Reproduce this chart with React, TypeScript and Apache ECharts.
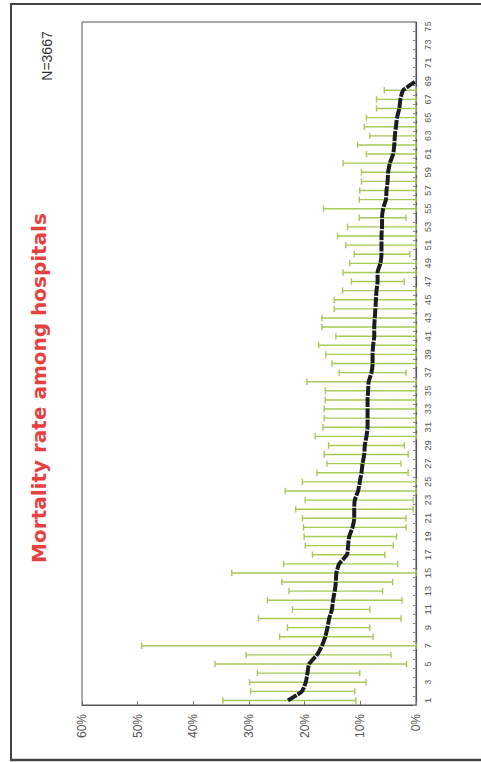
import React, { useEffect, useRef } from "react";
import * as echarts from "echarts";

const categories = [
  "1", "2", "3", "4", "5", "6", "7", "8", "9", "10",
  "11", "12", "13", "14", "15", "16", "17", "18", "19", "20",
  "21", "22", "23", "24", "25", "26", "27", "28", "29", "30",
  "31", "32", "33", "34", "35", "36", "37", "38", "39", "40",
  "41", "42", "43", "44", "45", "46", "47", "48", "49", "50",
  "51", "52", "53", "54", "55", "56", "57", "58", "59", "60",
  "61", "62", "63", "64", "65", "66", "67", "68", "69", "70",
  "71", "72", "73", "74", "75",
];

// mean mortality rate (%) per hospital (sorted)
const meanRate = [
  23.0, 20.5, 19.8, 19.5, 19.2, 17.8, 16.9, 16.3, 15.9, 15.6,
  15.1, 14.9, 14.6, 14.4, 14.3, 13.8, 12.4, 12.2, 12.0, 11.4,
  11.1, 11.1, 11.0, 10.4, 10.1, 9.8, 9.6, 9.3, 9.2, 8.9,
  8.7, 8.7, 8.7, 8.7, 8.6, 8.5, 8.0, 7.8, 7.8, 7.7,
  7.5, 7.5, 7.4, 7.3, 7.2, 7.1, 6.9, 6.9, 6.4, 6.2,
  6.2, 6.2, 6.1, 6.1, 5.9, 5.4, 5.3, 5.1, 5.0, 4.7,
  4.1, 3.9, 3.8, 3.6, 3.4, 3.0, 2.8, 2.3, 0.0,
];

// upper limit of the interval (%)
const upperRate = [
  34.7, 29.7, 29.9, 28.5, 36.1, 30.5, 49.3, 24.5, 23.1, 28.3,
  22.2, 26.7, 22.8, 24.1, 33.1, 23.8, 18.6, 19.9, 20.1, 20.2,
  20.4, 21.6, 19.9, 23.5, 20.4, 17.8, 16.0, 16.5, 15.7, 18.1,
  16.7, 16.5, 16.5, 16.3, 16.3, 19.6, 13.8, 15.1, 16.2, 17.5,
  14.4, 16.9, 16.9, 14.7, 14.7, 13.2, 11.6, 13.1, 11.9, 11.1,
  12.6, 14.1, 12.3, 10.2, 16.6, 10.2, 10.1, 9.8, 9.8, 13.1,
  8.9, 10.5, 8.3, 9.3, 8.9, 7.1, 7.1, 5.7,
];

// lower limit of the interval (%)
const lowerRate = [
  10.8, 11.0, 9.0, 10.1, 1.7, 4.5, 0.0, 7.7, 8.3, 2.7,
  8.3, 2.5, 6.0, 4.2, 0.0, 3.3, 5.6, 4.1, 3.5, 1.8,
  1.8, 0.5, 0.5, 0.0, 0.0, 1.4, 2.7, 1.4, 2.1, 0.0,
  0.0, 0.0, 0.0, 0.0, 0.0, 0.0, 1.8, 0.0, 0.0, 0.0,
  0.0, 0.0, 0.0, 0.0, 0.0, 0.0, 2.1, 0.0, 0.0, 1.1,
  0.0, 0.0, 0.0, 1.8, 0.0, 0.0, 0.0, 0.0, 0.0, 0.0,
  0.0, 0.0, 0.0, 0.0, 0.0, 0.0, 0.0, 0.0,
];

const valueTicks = [0, 10, 20, 30, 40, 50, 60];

const titleText = "Mortality rate among hospitals";
const countText = "N=3667";

export default function App() {
  const ref = useRef<HTMLDivElement>(null);

  useEffect(() => {
    if (!ref.current) return;
    const chart = echarts.init(ref.current, null, { renderer: "svg" });

    const errorData = upperRate.map((u, i) => [i, lowerRate[i], u]);
    const lineData = meanRate.map((m, i) => [m, i]);

    const option: any = {
      animation: false,
      backgroundColor: "#ffffff",
      grid: {
        left: 82,
        right: 65,
        top: 22,
        bottom: 57,
        show: true,
        borderColor: "#555",
        borderWidth: 1,
        backgroundColor: "transparent",
      },
      xAxis: {
        type: "value",
        inverse: true,
        min: valueTicks[0],
        max: valueTicks[valueTicks.length - 1],
        interval: valueTicks[1] - valueTicks[0],
        position: "bottom",
        axisLine: { show: true, lineStyle: { color: "#555", width: 1.2 } },
        axisTick: { show: true, inside: true, length: 4, lineStyle: { color: "#777" } },
        splitLine: { show: false },
        axisLabel: {
          rotate: 90,
          margin: 9,
          formatter: "{value}%",
          color: "#555",
          fontSize: 12,
          fontFamily: "Liberation Sans",
        },
      },
      yAxis: {
        type: "category",
        position: "right",
        data: categories,
        axisLine: { show: true, lineStyle: { color: "#555", width: 1.2 } },
        axisTick: { show: true, inside: true, length: 3, interval: 0, lineStyle: { color: "#888" } },
        splitLine: { show: false },
        axisLabel: {
          interval: 1,
          rotate: 90,
          margin: 8,
          color: "#555",
          fontSize: 9,
          fontFamily: "Liberation Mono",
        },
      },
      series: [
        {
          type: "custom",
          name: "range",
          data: errorData,
          encode: { x: [1, 2], y: 0 },
          z: 2,
          renderItem: (params: any, api: any) => {
            const cat = api.value(0);
            const lo = api.value(1);
            const hi = api.value(2);
            const p1 = api.coord([lo, cat]);
            const p2 = api.coord([hi, cat]);
            const h = 3.2;
            const style = { stroke: "#a6ca55", lineWidth: 1.4, fill: "none" };
            return {
              type: "group",
              children: [
                { type: "line", shape: { x1: p1[0], y1: p1[1], x2: p2[0], y2: p2[1] }, style },
                { type: "line", shape: { x1: p1[0], y1: p1[1] - h, x2: p1[0], y2: p1[1] + h }, style },
                { type: "line", shape: { x1: p2[0], y1: p2[1] - h, x2: p2[0], y2: p2[1] + h }, style },
              ],
            };
          },
        },
        {
          type: "line",
          name: "mean",
          data: lineData,
          z: 3,
          symbol: "none",
          smooth: 0.2,
          lineStyle: { color: "#1c1c1c", width: 4, type: [10, 1.2] },
        },
      ],
      graphic: [
        { type: "line", shape: { x1: 10, y1: 4, x2: 481, y2: 4 }, style: { stroke: "#444", lineWidth: 2 } },
        { type: "line", shape: { x1: 11, y1: 4, x2: 11, y2: 760 }, style: { stroke: "#444", lineWidth: 2 } },
        { type: "line", shape: { x1: 10, y1: 760, x2: 481, y2: 760 }, style: { stroke: "#444", lineWidth: 2.5 } },
        {
          type: "text",
          x: 39,
          y: 388,
          rotation: Math.PI / 2,
          style: {
            text: titleText,
            fill: "#e8403f",
            font: 'bold 20px "DejaVu Sans"',
            textAlign: "center",
            textVerticalAlign: "middle",
            align: "center",
            verticalAlign: "middle",
          },
        },
        {
          type: "text",
          x: 47,
          y: 56,
          rotation: Math.PI / 2,
          style: {
            text: countText,
            fill: "#333",
            font: '14px "Liberation Sans"',
            textAlign: "center",
            textVerticalAlign: "middle",
            align: "center",
            verticalAlign: "middle",
          },
        },
      ],
    };

    chart.setOption(option);
    return () => chart.dispose();
  }, []);

  return (
    <div
      ref={ref}
      style={{ position: "fixed", left: 0, top: 0, width: 481, height: 762, background: "#fff" }}
    />
  );
}
